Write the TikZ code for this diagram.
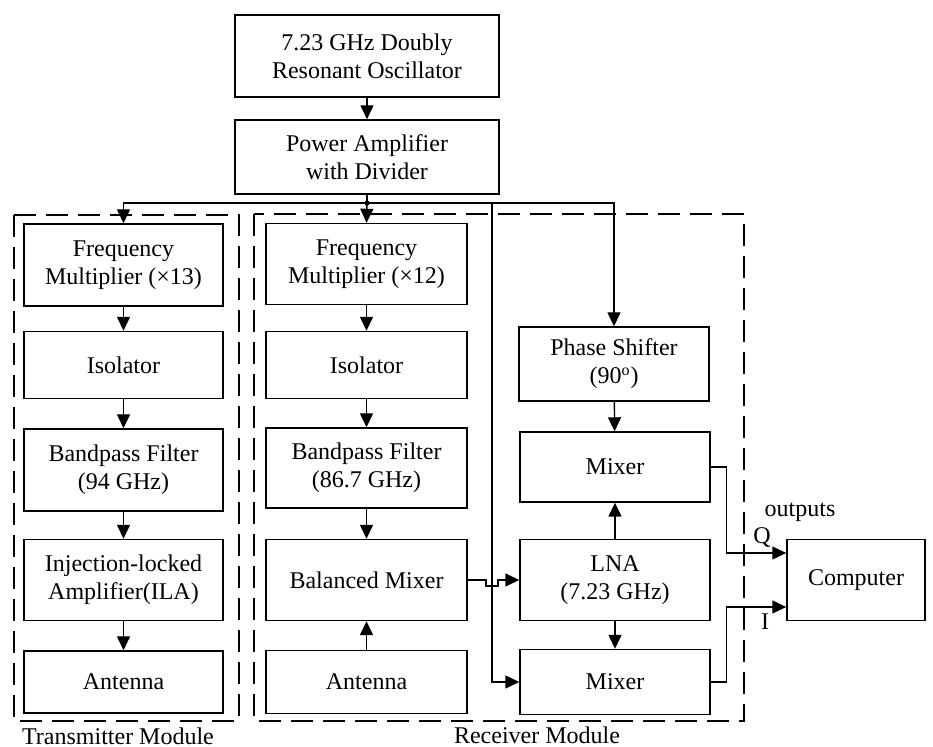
\documentclass[tikz,border=0pt]{standalone}
\usepackage{fontspec}
\setmainfont{Liberation Serif}
\usepackage{tikz}
\usetikzlibrary{arrows.meta,calc}

\begin{document}
\begin{tikzpicture}[
  x=0.5pt, y=-0.5pt,
  >={Triangle[length=7pt,width=6.5pt]},
  box/.style    = {draw, line width=0.7pt, align=center, inner sep=2pt,
                   font=\fontsize{12}{14}\selectfont},
  txbox/.style  = {box, minimum width=99.5pt},
  rxbox/.style  = {box, minimum width=100.5pt},
  rfbox/.style  = {box, minimum width=95pt},
  lbl/.style    = {font=\fontsize{12}{14}\selectfont, inner sep=1pt},
  arrow/.style  = {->, line width=0.7pt},
  module/.style = {dashed, dash pattern=on 11pt off 5pt, line width=0.6pt}
]
\useasboundingbox (0,0) rectangle (933,747);

%% ---- source chain ------------------------------------------------------
\node[box, minimum width=132pt, minimum height=41pt] (osc) at (367,56)
  {7.23 GHz Doubly\\Resonant Oscillator};
\node[box, minimum width=132pt, minimum height=37pt] (pa) at (367,157)
  {Power Amplifier\\with Divider};
\draw[arrow] (osc) -- (pa);

%% ---- transmitter column ------------------------------------------------
\node[txbox, minimum height=41pt]   (fmtx)  at (123.5,265) {Frequency\\Multiplier (×13)};
\node[txbox, minimum height=33.5pt] (isotx) at (123.5,365) {Isolator};
\node[txbox, minimum height=41pt]   (bpftx) at (123.5,470) {Bandpass Filter\\(94 GHz)};
\node[txbox, minimum height=40.5pt] (ila)   at (123.5,580) {Injection-locked\\Amplifier(ILA)};
\node[txbox, minimum height=31pt]   (anttx) at (123.5,682) {Antenna};

\draw[arrow] (fmtx) -- (isotx);
\draw[arrow] (isotx) -- (bpftx);
\draw[arrow] (bpftx) -- (ila);
\draw[arrow] (ila) -- (anttx);

%% ---- receiver column ---------------------------------------------------
\node[rxbox, minimum height=40.5pt] (fmrx)  at (366.5,264) {Frequency\\Multiplier (×12)};
\node[rxbox, minimum height=33.5pt] (isorx) at (366.5,365) {Isolator};
\node[rxbox, minimum height=40pt]   (bpfrx) at (366.5,468) {Bandpass Filter\\(86.7 GHz)};
\node[rxbox, minimum height=40.5pt] (bmix)  at (366.5,580) {Balanced Mixer};
\node[rxbox, minimum height=31.5pt] (antrx) at (366.5,682) {Antenna};

\draw[arrow] (fmrx) -- (isorx);
\draw[arrow] (isorx) -- (bpfrx);
\draw[arrow] (bpfrx) -- (bmix);
\draw[arrow] (antrx) -- (bmix);

%% ---- IF / IQ chain -----------------------------------------------------
\node[rfbox, minimum height=37pt]   (ps)   at (614,364) {Phase Shifter\\(90\textsuperscript{o})};
\node[rfbox, minimum height=35pt]   (mixq) at (615,467) {Mixer};
\node[rfbox, minimum height=40.5pt] (lna)  at (615,580) {LNA\\(7.23 GHz)};
\node[rfbox, minimum height=32.5pt] (mixi) at (615,682) {Mixer};
\node[box, minimum width=69pt, minimum height=40.5pt] (comp) at (856,580) {Computer};

\draw[arrow] (ps) -- (mixq);
\draw[arrow] (lna) -- (mixq);
\draw[arrow] (lna) -- (mixi);

%% ---- LO distribution bus from the divider ------------------------------
\coordinate (bus) at (367,203);
\coordinate (tap) at (492,203);
\draw[line width=0.7pt] (pa) -- (bus);
\fill (bus) circle (1.3pt);
\draw[arrow] (bus) -| (fmtx.north);
\draw[arrow] (bus) -- (fmrx.north);
\draw[arrow] (bus) -| (ps.north);
\draw[arrow] (tap) |- (mixi.west);

%% IF line hops over the LO tap
\draw[arrow] (bmix.east) -- (486,580) -- (486,586) -- (498,586) -- (498,580) -- (lna.west);

%% ---- outputs to the computer -------------------------------------------
\draw[arrow] (mixq.east) -- ++(16,0) |- ($(comp.west)+(0,-27)$);
\draw[arrow] (mixi.east) -- ++(16,0) |- ($(comp.west)+(0,27)$);
\node[lbl] (qlbl) at (762,538) {Q};
\node[lbl] (ilbl) at (765,622) {I};
\node[lbl] (outs) at (800,512) {outputs};

%% ---- module frames -----------------------------------------------------
\draw[module] (14,215) rectangle (239,721);
\draw[module] (254,214) rectangle (744,721);
\node[lbl] (txlbl) at (118,736) {Transmitter Module};
\node[lbl] (rxlbl) at (537,735) {Receiver Module};

\end{tikzpicture}
\end{document}
